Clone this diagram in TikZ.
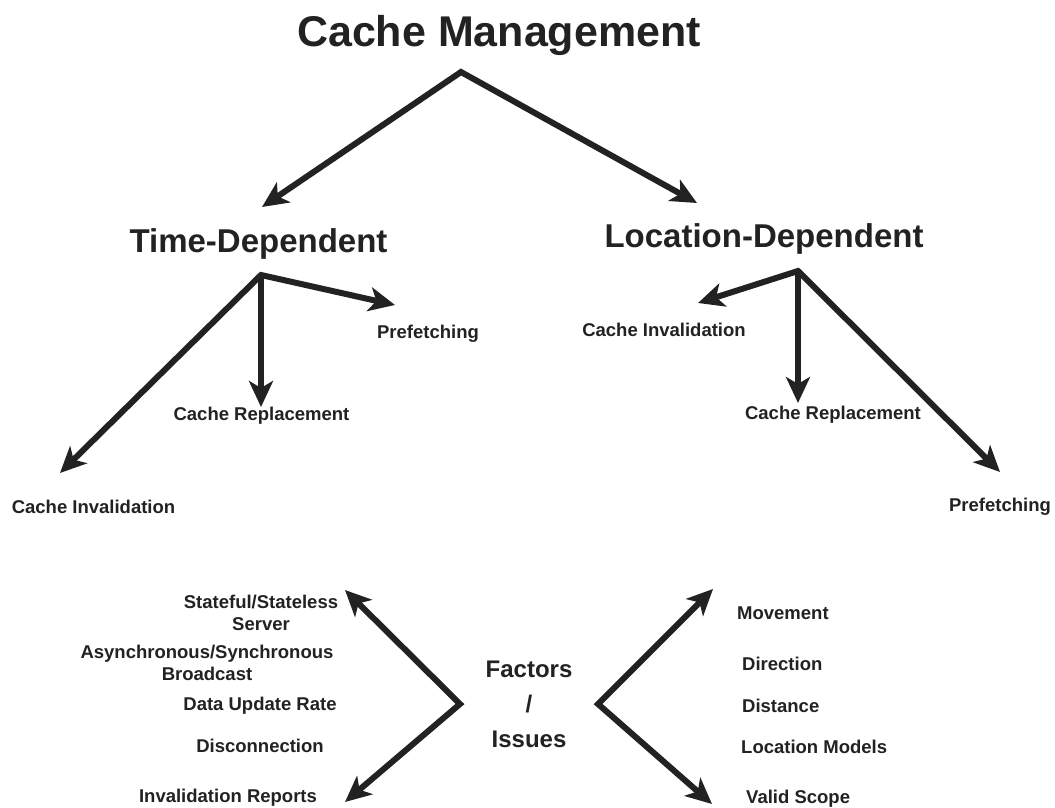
\documentclass[tikz,border=0pt]{standalone}
\usepackage{fontspec}
\setmainfont{Liberation Sans}
\usetikzlibrary{arrows.meta}
\definecolor{ink}{HTML}{222222}
\tikzset{bigtip/.tip={Stealth[length=26pt,width=24pt,inset=7pt]}}
\begin{document}
\begin{tikzpicture}[x=1pt,y=-1pt,
  lbl/.style={inner sep=0pt, anchor=base, text=ink, align=center, font=\bfseries\fontsize{18.5}{22}\selectfont},
  lblL/.style={lbl, anchor=base west},
  head/.style={inner sep=0pt, anchor=base, text=ink, font=\bfseries\fontsize{33}{40}\selectfont},
  ttl/.style={inner sep=0pt, anchor=base, text=ink, font=\bfseries\fontsize{43}{50}\selectfont},
  fac/.style={inner sep=0pt, anchor=base, text=ink, align=center, font=\bfseries\fontsize{24}{35}\selectfont},
  arr/.style={draw=ink, line width=6pt, line join=miter, -bigtip},
  arrb/.style={draw=ink, line width=6pt, line join=miter, bigtip-bigtip}
]
\useasboundingbox[fill=white] (0,0) rectangle (1055,808);

% titles
\node[ttl]  (cm) at (499,47)  {Cache Management};
\node[head] (td) at (258.5,252) {Time-Dependent};
\node[head] (ld) at (764,247) {Location-Dependent};

% time-dependent leaves
\node[lbl] (tdPre) at (428,338) {Prefetching};
\node[lbl] (tdRep) at (261.5,420) {Cache Replacement};
\node[lbl] (tdInv) at (93.5,513) {Cache Invalidation};

% location-dependent leaves
\node[lbl] (ldInv) at (664,336) {Cache Invalidation};
\node[lbl] (ldRep) at (833,419) {Cache Replacement};
\node[lbl] (ldPre) at (1000,511) {Prefetching};

% factors (base anchor = last line)
\node[fac] (fi) at (529,747) {Factors\\/\\Issues};

\node[lbl] (f1) at (261,630) {Stateful/Stateless\\Server};
\node[lbl] (f2) at (207,680) {Asynchronous/Synchronous\\Broadcast};
\node[lbl] (f3) at (260,710) {Data Update Rate};
\node[lbl] (f4) at (260,752) {Disconnection};
\node[lbl] (f5) at (228,802) {Invalidation Reports};

\node[lblL] (g1) at (737,619) {Movement};
\node[lblL] (g2) at (742,670) {Direction};
\node[lblL] (g3) at (742,712) {Distance};
\node[lblL] (g4) at (741,753) {Location Models};
\node[lblL] (g5) at (746,803) {Valid Scope};

% coordinates for connectors
\coordinate (cmA) at (461,72);
\coordinate (tdT) at (262,207);
\coordinate (ldT) at (697,203);

\coordinate (tdA) at (261,275);
\coordinate (tdPreT) at (395,305);
\coordinate (tdRepT) at (261,407);
\coordinate (tdInvT) at (60,473);

\coordinate (ldA) at (798,271);
\coordinate (ldInvT) at (698,303);
\coordinate (ldRepT) at (798,403);
\coordinate (ldPreT) at (1000,472);

\coordinate (lA) at (460,704);
\coordinate (lTop) at (345,590);
\coordinate (lBot) at (345,802);

\coordinate (rA) at (598,704);
\coordinate (rTop) at (713,589);
\coordinate (rBot) at (712,804);

% connectors
\draw[arrb] (tdT) -- (cmA) -- (ldT);

\draw[arrb] (tdInvT) -- (tdA) -- (tdPreT);
\draw[arr] (tdA) -- (tdRepT);

\draw[arrb] (ldInvT) -- (ldA) -- (ldPreT);
\draw[arr] (ldA) -- (ldRepT);

\draw[arrb] (lTop) -- (lA) -- (lBot);
\draw[arrb] (rTop) -- (rA) -- (rBot);
\end{tikzpicture}
\end{document}
